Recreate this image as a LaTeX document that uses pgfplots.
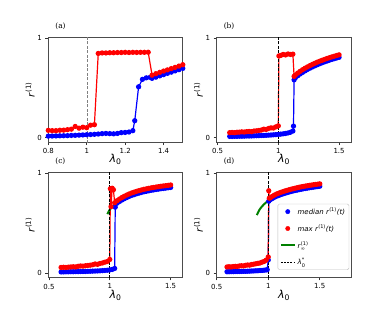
\documentclass[border=0pt]{standalone}
\usepackage{fontspec}
\setmainfont{DejaVu Sans}
\newfontfamily\serif{DejaVu Serif}
\usepackage{pgfplots}
\pgfplotsset{compat=1.18}
\definecolor{mplgreen}{RGB}{0,128,0}
\newcommand{\sm}[1]{\mbox{\fontsize{5}{5}\selectfont #1}}
\pgfplotsset{
  panel/.style={scale only axis, width=134.5bp, height=104.5bp,
    ymin=-0.044, ymax=1.005, ytick={0,1},
    tick align=outside, tick pos=left, major tick length=3bp,
    tick style={black!80, line width=0.6bp},
    axis line style={black!70, line width=0.8bp},
    tick label style={font=\fontsize{7}{8}\selectfont},
    /pgf/number format/assume math mode=true,
    xlabel={\textit{λ}\textsubscript{0}},
    ylabel={\textit{r}\textsuperscript{(1)}},
    xlabel style={at={(axis description cs:0.5,-0.17)}, anchor=center, font=\fontsize{11}{13}\selectfont},
    ylabel style={at={(axis description cs:-0.135,0.5)}, anchor=center, font=\fontsize{10}{12}\selectfont},
    title style={at={(axis description cs:0.04,1)}, anchor=south west, font=\serif\fontsize{7.5}{8}\selectfont, inner sep=1.5bp},
  },
  med/.style={blue, mark=*, mark size=2bp, line width=1.2bp, forget plot},
  mx/.style={red, mark=*, mark size=2bp, line width=1.2bp, forget plot},
  inf/.style={mplgreen, line width=2bp, no marks, forget plot},
  lam/.style={black, dashed, dash pattern=on 3bp off 1.5bp, line width=0.8bp, forget plot},
}
\begin{document}
\begin{tikzpicture}
\path[use as bounding box] (0bp,0bp) rectangle (390bp,-312bp);
% (a)
\begin{axis}[panel, at={(48.3bp,-37.5bp)}, anchor=north west, xmin=0.8, xmax=1.5, xtick={0.8,1,1.2,1.4}, title={(a)}]
\addplot[med] coordinates {(0.80,0.015)(0.82,0.016)(0.84,0.017)(0.86,0.018)(0.88,0.019)(0.90,0.020)(0.92,0.022)(0.94,0.023)(0.96,0.025)(0.98,0.027)(1.00,0.029)(1.02,0.031)(1.04,0.033)(1.06,0.036)(1.08,0.040)(1.10,0.042)(1.12,0.040)(1.14,0.038)(1.16,0.042)(1.18,0.050)(1.20,0.052)(1.22,0.056)(1.24,0.070)(1.25,0.170)(1.27,0.510)(1.29,0.585)(1.31,0.600)(1.33,0.605)(1.34,0.595)(1.36,0.607)(1.38,0.620)(1.40,0.632)(1.42,0.645)(1.44,0.657)(1.46,0.670)(1.48,0.682)(1.50,0.695)};
\addplot[mx] coordinates {(0.80,0.073)(0.82,0.070)(0.84,0.070)(0.86,0.074)(0.88,0.075)(0.90,0.080)(0.92,0.085)(0.94,0.112)(0.96,0.095)(0.98,0.105)(1.00,0.100)(1.02,0.125)(1.04,0.130)(1.06,0.845)(1.08,0.850)(1.10,0.850)(1.12,0.852)(1.14,0.852)(1.16,0.854)(1.18,0.854)(1.20,0.856)(1.22,0.854)(1.24,0.856)(1.26,0.855)(1.28,0.856)(1.30,0.856)(1.32,0.857)(1.34,0.627)(1.36,0.642)(1.38,0.655)(1.40,0.668)(1.42,0.680)(1.44,0.693)(1.46,0.705)(1.48,0.718)(1.50,0.732)};
\addplot[inf] coordinates {(1.34,0.605)(1.38,0.635)(1.42,0.660)(1.46,0.685)(1.50,0.712)};
\addplot[lam, gray, line width=1bp] coordinates {(1.005,-0.1)(1.005,1.1)};
\end{axis}
% (b)
\begin{axis}[panel, at={(216.7bp,-37.5bp)}, anchor=north west, xmin=0.493, xmax=1.6, xtick={0.5,1,1.5}, title={(b)}]
\addplot[med] coordinates {(0.60,0.012)(0.62,0.012)(0.64,0.013)(0.66,0.013)(0.68,0.014)(0.70,0.014)(0.72,0.015)(0.74,0.016)(0.76,0.016)(0.78,0.017)(0.80,0.018)(0.82,0.019)(0.84,0.020)(0.86,0.021)(0.88,0.022)(0.90,0.023)(0.92,0.025)(0.94,0.026)(0.96,0.028)(0.98,0.030)(1.00,0.032)(1.02,0.035)(1.04,0.038)(1.06,0.042)(1.08,0.047)(1.10,0.054)(1.12,0.066)(1.125,0.115)(1.13,0.580)(1.14,0.600)(1.16,0.621)(1.18,0.639)(1.20,0.655)(1.22,0.670)(1.24,0.684)(1.26,0.697)(1.28,0.709)(1.30,0.720)(1.32,0.731)(1.34,0.741)(1.36,0.751)(1.38,0.760)(1.40,0.768)(1.42,0.777)(1.44,0.785)(1.46,0.792)(1.48,0.799)(1.50,0.806)};
\addplot[mx] coordinates {(0.60,0.050)(0.62,0.052)(0.64,0.050)(0.66,0.054)(0.68,0.055)(0.70,0.058)(0.72,0.056)(0.74,0.060)(0.76,0.062)(0.78,0.060)(0.80,0.066)(0.82,0.068)(0.84,0.072)(0.86,0.076)(0.88,0.085)(0.90,0.082)(0.92,0.092)(0.94,0.098)(0.96,0.096)(0.98,0.108)(1.00,0.118)(1.005,0.820)(1.02,0.825)(1.04,0.835)(1.06,0.830)(1.08,0.840)(1.10,0.835)(1.12,0.838)(1.13,0.615)(1.14,0.628)(1.16,0.648)(1.18,0.666)(1.20,0.682)(1.22,0.697)(1.24,0.710)(1.26,0.723)(1.28,0.735)(1.30,0.746)(1.32,0.757)(1.34,0.767)(1.36,0.776)(1.38,0.785)(1.40,0.794)(1.42,0.802)(1.44,0.810)(1.46,0.817)(1.48,0.824)(1.50,0.831)};
\addplot[inf] coordinates {(1.13,0.600)(1.14,0.613)(1.16,0.633)(1.18,0.651)(1.20,0.667)(1.25,0.701)(1.30,0.730)(1.35,0.755)(1.40,0.778)(1.45,0.798)(1.50,0.816)};
\addplot[lam] coordinates {(1,-0.1)(1,1.1)};
\end{axis}
% (c)
\begin{axis}[panel, at={(48.3bp,-172.8bp)}, anchor=north west, xmin=0.495, xmax=1.6, xtick={0.5,1,1.5}, title={(c)}]
\addplot[med] coordinates {(0.60,0.010)(0.62,0.010)(0.64,0.011)(0.66,0.011)(0.68,0.012)(0.70,0.012)(0.72,0.013)(0.74,0.013)(0.76,0.014)(0.78,0.014)(0.80,0.015)(0.82,0.016)(0.84,0.017)(0.86,0.018)(0.88,0.019)(0.90,0.020)(0.92,0.021)(0.94,0.023)(0.96,0.025)(0.98,0.027)(1.00,0.030)(1.02,0.035)(1.04,0.045)(1.045,0.660)(1.06,0.700)(1.08,0.717)(1.10,0.732)(1.12,0.745)(1.14,0.757)(1.16,0.768)(1.18,0.778)(1.20,0.786)(1.22,0.794)(1.24,0.801)(1.26,0.808)(1.28,0.814)(1.30,0.819)(1.32,0.824)(1.34,0.829)(1.36,0.833)(1.38,0.837)(1.40,0.841)(1.42,0.845)(1.44,0.848)(1.46,0.851)(1.48,0.855)(1.50,0.858)};
\addplot[mx] coordinates {(0.60,0.055)(0.62,0.057)(0.64,0.055)(0.66,0.058)(0.68,0.060)(0.70,0.062)(0.72,0.060)(0.74,0.066)(0.76,0.070)(0.78,0.068)(0.80,0.072)(0.82,0.075)(0.84,0.078)(0.86,0.082)(0.88,0.090)(0.90,0.086)(0.92,0.095)(0.94,0.100)(0.96,0.108)(0.98,0.115)(1.00,0.135)(1.005,0.845)(1.01,0.665)(1.02,0.850)(1.03,0.835)(1.04,0.705)(1.06,0.725)(1.08,0.742)(1.10,0.757)(1.12,0.770)(1.14,0.782)(1.16,0.793)(1.18,0.803)(1.20,0.811)(1.22,0.819)(1.24,0.826)(1.26,0.833)(1.28,0.839)(1.30,0.844)(1.32,0.849)(1.34,0.854)(1.36,0.858)(1.38,0.862)(1.40,0.866)(1.42,0.870)(1.44,0.873)(1.46,0.876)(1.48,0.879)(1.50,0.883)};
\addplot[inf] coordinates {(0.98,0.590)(0.99,0.615)(1.00,0.635)(1.02,0.665)(1.04,0.690)(1.06,0.710)(1.08,0.727)(1.10,0.742)(1.15,0.772)(1.20,0.795)(1.25,0.813)(1.30,0.828)(1.35,0.840)(1.40,0.851)(1.45,0.860)(1.50,0.868)};
\addplot[lam] coordinates {(1,-0.1)(1,1.1)};
\end{axis}
% (d)
\begin{axis}[panel, at={(216.7bp,-172.8bp)}, anchor=north west, xmin=0.5, xmax=1.805, xtick={0.5,1,1.5}, title={(d)},
  legend style={at={(0.985,0.07)}, anchor=south east, draw=black!25, rounded corners=1.5bp, font=\fontsize{7}{8}\selectfont, inner xsep=2bp, inner ysep=1.5bp, row sep=4.6bp, cells={anchor=west}},
  legend cell align=left, legend image code/.code={\draw[#1] (0bp,0bp) -- (14bp,0bp);}]
\addplot[med] coordinates {(0.60,0.012)(0.62,0.012)(0.64,0.013)(0.66,0.013)(0.68,0.014)(0.70,0.014)(0.72,0.015)(0.74,0.015)(0.76,0.016)(0.78,0.016)(0.80,0.017)(0.82,0.018)(0.84,0.019)(0.86,0.020)(0.88,0.021)(0.90,0.022)(0.92,0.024)(0.94,0.025)(0.96,0.027)(0.98,0.030)(0.99,0.032)(1.00,0.130)(1.005,0.720)(1.02,0.735)(1.04,0.747)(1.06,0.759)(1.08,0.769)(1.10,0.777)(1.12,0.785)(1.14,0.792)(1.16,0.799)(1.18,0.805)(1.20,0.811)(1.22,0.817)(1.24,0.822)(1.26,0.827)(1.28,0.831)(1.30,0.836)(1.32,0.840)(1.34,0.844)(1.36,0.848)(1.38,0.851)(1.40,0.855)(1.42,0.858)(1.44,0.861)(1.46,0.864)(1.48,0.867)(1.50,0.870)};
\addplot[mx] coordinates {(0.60,0.060)(0.62,0.062)(0.64,0.060)(0.66,0.064)(0.68,0.066)(0.70,0.065)(0.72,0.070)(0.74,0.072)(0.76,0.070)(0.78,0.076)(0.80,0.080)(0.82,0.078)(0.84,0.085)(0.86,0.088)(0.88,0.092)(0.90,0.096)(0.92,0.100)(0.94,0.108)(0.96,0.115)(0.98,0.128)(1.00,0.160)(1.005,0.825)(1.01,0.750)(1.02,0.755)(1.04,0.769)(1.06,0.781)(1.08,0.792)(1.10,0.800)(1.12,0.808)(1.14,0.815)(1.16,0.822)(1.18,0.828)(1.20,0.834)(1.22,0.840)(1.24,0.845)(1.26,0.850)(1.28,0.855)(1.30,0.860)(1.32,0.864)(1.34,0.868)(1.36,0.872)(1.38,0.875)(1.40,0.879)(1.42,0.882)(1.44,0.885)(1.46,0.888)(1.48,0.891)(1.50,0.894)};
\addplot[inf] coordinates {(0.89,0.580)(0.90,0.605)(0.91,0.625)(0.92,0.642)(0.94,0.668)(0.96,0.690)(0.98,0.708)(1.00,0.724)(1.05,0.755)(1.10,0.779)(1.15,0.798)(1.20,0.814)(1.25,0.828)(1.30,0.840)(1.35,0.850)(1.40,0.859)(1.45,0.867)(1.50,0.875)};
\addplot[lam] coordinates {(1,-0.1)(1,1.1)};
\addlegendimage{legend image code/.code={\fill[blue] (7bp,0bp) circle (2.2bp);}}
\addlegendentry{\textit{median r}\textsuperscript{(1)}\textit{(t)}}
\addlegendimage{legend image code/.code={\fill[red] (7bp,0bp) circle (2.2bp);}}
\addlegendentry{\textit{max r}\textsuperscript{(1)}\textit{(t)}}
\addlegendimage{mplgreen, line width=1.8bp}
\addlegendentry{\textit{r}$^{\sm{(1)}}_{\sm{∞}}$}
\addlegendimage{black, dash pattern=on 2bp off 1.2bp, line width=0.8bp}
\addlegendentry{\textit{λ}$^{\sm{*}}_{\sm{0}}$}
\end{axis}
\end{tikzpicture}
\end{document}
